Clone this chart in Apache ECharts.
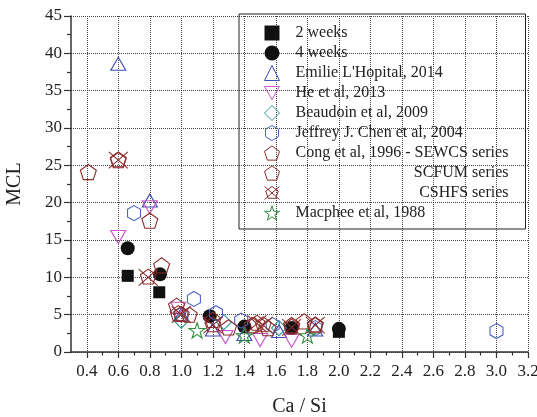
<!DOCTYPE html>
<html>
<head>
<meta charset="utf-8">
<script src="https://cdn.jsdelivr.net/npm/echarts@6/dist/echarts.min.js"></script>
<style>html,body{margin:0;padding:0;background:#fff}#c{width:537px;height:417px}</style>
</head>
<body>
<div id="c"></div>
<script>
// ---- data ----
var xTicks = [0.4,0.6,0.8,1.0,1.2,1.4,1.6,1.8,2.0,2.2,2.4,2.6,2.8,3.0,3.2];
var xMinorTicks = [0.5,0.7,0.9,1.1,1.3,1.5,1.7,1.9,2.1,2.3,2.5,2.7,2.9,3.1];
var seriesNames = ['2 weeks','4 weeks',"Emilie L'Hopital, 2014",'He et al, 2013','Beaudoin et al, 2009','Jeffrey J. Chen et al, 2004','Cong et al, 1996 - SEWCS series','SCFUM series','CSHFS series','Macphee et al, 1988'];
var twoWeeks = [[0.66,10.2],[0.86,8.0],[2.0,2.7]];
var fourWeeks = [[0.66,13.9],[0.865,10.4],[1.18,4.8],[1.4,3.4],[1.7,3.2],[2.0,3.1]];
var lhopital = [[0.6,38.6],[0.8,20.3],[1.0,5.0],[1.2,3.0],[1.4,2.4],[1.62,2.8],[1.85,3.0]];
var heEtAl = [[0.6,15.4],[0.8,19.4],[0.98,5.8],[1.28,2.0],[1.5,1.6],[1.7,1.5]];
var beaudoin = [[1.0,4.2],[1.27,4.0],[1.62,3.2]];
var chen = [[0.7,18.6],[1.08,7.1],[1.0,5.0],[1.22,5.2],[1.38,4.2],[1.58,3.6],[1.85,3.2],[3.0,2.8]];
var sewcs = [[0.41,24.1],[0.8,17.6],[0.875,11.6],[0.97,6.2],[1.05,5.0],[1.3,3.3],[1.55,3.2],[1.78,4.1]];
var scfum = [[0.6,25.7],[0.98,5.2],[1.2,4.3],[1.45,3.6],[1.7,3.6],[1.85,3.6]];
var cshfs = [[0.6,25.7],[0.79,10.0],[1.0,5.0],[1.2,3.6],[1.48,3.8],[1.52,3.6],[1.7,3.3],[1.85,3.6]];
var macphee = [[1.1,2.9],[1.4,2.2],[1.8,2.2]];

// ---- symbols ----
var PENTAGON = 'path://M100,0L195.1,69.1L158.8,180.9L41.2,180.9L4.9,69.1Z';
var CROSSPENT = 'path://M100,0L195.1,69.1L158.8,180.9L41.2,180.9L4.9,69.1ZM-15,0L215,200M215,0L-15,200';
var HEXAGON = 'path://M86.6,0L173.2,50L173.2,150L86.6,200L0,150L0,50Z';
var STAR = 'path://M100,0L122.45,69.1L195.1,69.1L136.3,111.8L158.8,180.9L100,138.2L41.2,180.9L63.7,111.8L4.9,69.1L77.55,69.1Z';
var DOWNTRI = 'path://M0,0L115,0L57.5,100Z';

var FONT = 'Liberation Serif';
var cBlack = '#111111', cBlue = '#3a4fb8', cMag = '#c957c9', cTeal = '#2f9a95', cHex = '#4b64c8', cRed = '#8c2b2b', cGreen = '#2f8c3c';

function hollow(name, data, symbol, size, color, extra) {
  var s = {
    name: name, type: 'scatter', data: data, symbol: symbol, symbolSize: size,
    symbolKeepAspect: true,
    itemStyle: { color: 'rgba(0,0,0,0)', borderColor: color, borderWidth: 1.1, opacity: 1 },
    emphasis: { disabled: true }
  };
  if (extra) for (var k in extra) s[k] = extra[k];
  return s;
}

var rightAligned = { 'SCFUM series': 1, 'CSHFS series': 1 };
var legendData = seriesNames.map(function (n, i) {
  return i === 3 ? { name: n, icon: DOWNTRI } : { name: n };
});

var option = {
  animation: false,
  backgroundColor: '#fff',
  grid: { left: 71, right: 9, top: 16, bottom: 65, containLabel: false, outerBoundsMode: 'none' },
  legend: {
    data: legendData,
    orient: 'vertical',
    left: 239, top: 14,
    padding: [11, 17, 8, 25],
    itemWidth: 15, itemHeight: 15, itemGap: 4,
    borderColor: '#222', borderWidth: 1,
    itemStyle: { borderWidth: 1 },
    textStyle: { fontFamily: FONT, fontSize: 16, color: '#222', lineHeight: 16, padding: [0, 0, 0, 11],
      rich: { r: { fontFamily: FONT, fontSize: 16, color: '#222', width: 213, align: 'right' } } },
    formatter: function (n) { return rightAligned[n] ? '{r|' + n + '}' : n; }
  },
  xAxis: [{
    type: 'value', min: 0.3, max: 3.2,
    name: 'Ca / Si', nameLocation: 'middle', nameGap: 45,
    nameTextStyle: { fontFamily: FONT, fontSize: 20, color: '#222' },
    axisLine: { show: true, onZero: false, lineStyle: { color: '#333', width: 1.5 } },
    axisTick: { show: true, length: 6, customValues: xTicks, lineStyle: { color: '#333', width: 1.2 } },
    axisLabel: { customValues: xTicks, fontFamily: FONT, fontSize: 17, color: '#222', margin: 11,
      formatter: function (v) { return v.toFixed(1); } },
    splitLine: { show: true, lineStyle: { type: 'dotted', color: '#444', width: 1 } }
  }, {
    type: 'value', min: 0.3, max: 3.2, position: 'bottom', offset: 0,
    axisLine: { show: false },
    axisTick: { show: true, length: 3.5, customValues: xMinorTicks, lineStyle: { color: '#333', width: 1.2 } },
    axisLabel: { show: false },
    splitLine: { show: false }
  }],
  yAxis: {
    type: 'value', min: 0, max: 45, interval: 5,
    name: 'MCL', nameLocation: 'middle', nameGap: 46,
    nameTextStyle: { fontFamily: FONT, fontSize: 20, color: '#222' },
    axisLine: { show: true, onZero: false, lineStyle: { color: '#333', width: 1.5 } },
    axisTick: { show: true, length: 7, lineStyle: { color: '#333', width: 1.2 } },
    minorTick: { show: true, splitNumber: 2, length: 4, lineStyle: { color: '#333', width: 1.2 } },
    axisLabel: { fontFamily: FONT, fontSize: 17, color: '#222', margin: 9 },
    splitLine: { show: true, lineStyle: { type: 'dotted', color: '#444', width: 1 } }
  },
  series: [
    { name: seriesNames[0], type: 'scatter', data: twoWeeks, symbol: 'rect', symbolSize: 12,
      itemStyle: { color: cBlack, opacity: 1 }, emphasis: { disabled: true } },
    { name: seriesNames[1], type: 'scatter', data: fourWeeks, symbol: 'circle', symbolSize: 14,
      itemStyle: { color: cBlack, opacity: 1 }, emphasis: { disabled: true } },
    hollow(seriesNames[2], lhopital, 'triangle', [15, 13], cBlue),
    hollow(seriesNames[3], heEtAl, 'triangle', [15, 13], cMag, { symbolRotate: 180 }),
    hollow(seriesNames[4], beaudoin, 'diamond', [15, 15], cTeal),
    hollow(seriesNames[5], chen, HEXAGON, 15, cHex),
    hollow(seriesNames[6], sewcs, PENTAGON, 16, cRed),
    hollow(seriesNames[7], scfum, PENTAGON, 16, cRed),
    hollow(seriesNames[8], cshfs, CROSSPENT, 19, cRed),
    hollow(seriesNames[9], macphee, STAR, 16, cGreen)
  ]
};
var chart = echarts.init(document.getElementById('c'), null, { renderer: 'canvas' });
chart.setOption(option);
</script>
</body>
</html>
